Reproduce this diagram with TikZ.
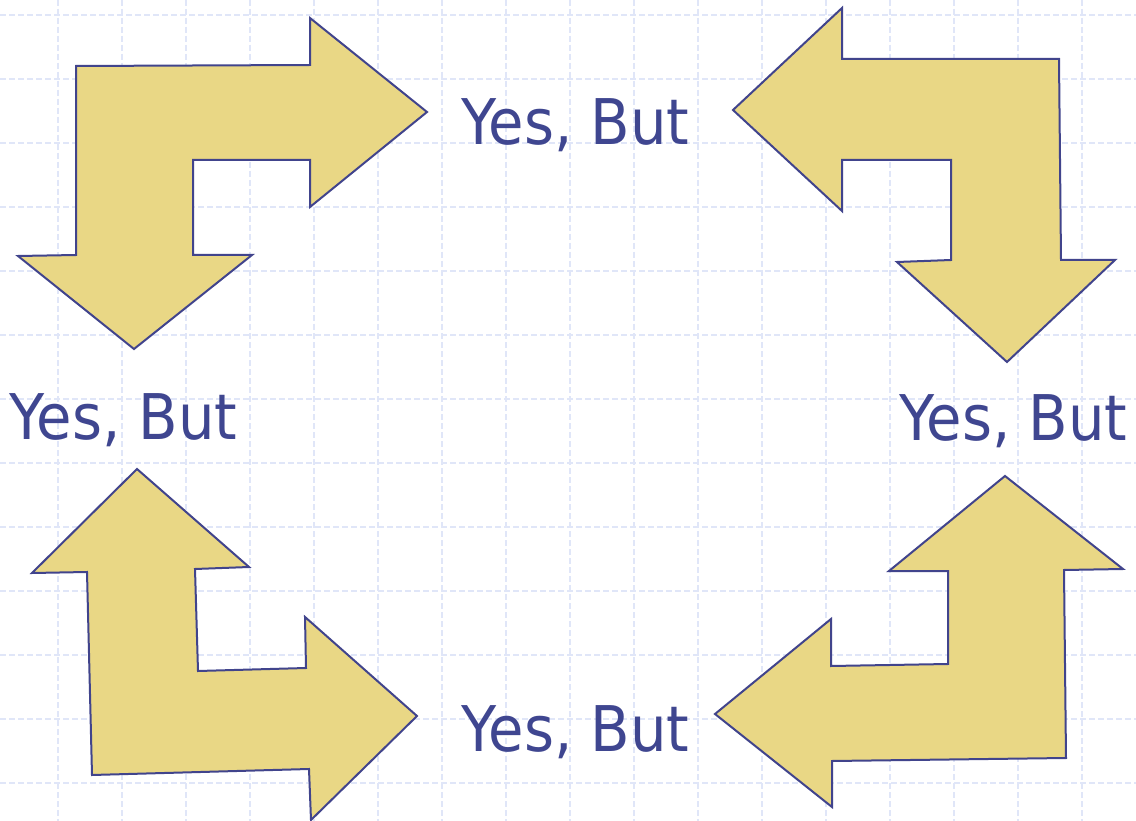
\documentclass[tikz,border=0pt]{standalone}
\usepackage{fontspec}
\newfontfamily\ybfont[FakeStretch=0.915]{DejaVu Sans}
\definecolor{arrowfill}{HTML}{E9D785}
\definecolor{arrowline}{HTML}{41448C}
\definecolor{textblue}{HTML}{3F4690}
\definecolor{gridblue}{HTML}{E0E6F8}
\begin{document}
\begin{tikzpicture}[x=1pt,y=-1pt,
  arrowshape/.style={fill=arrowfill,draw=arrowline,line width=2pt,line join=miter},
  gridline/.style={draw=gridblue,line width=1.3pt,dash pattern=on 6pt off 3pt},
  label/.style={text=textblue,font=\ybfont\fontsize{63}{70}\selectfont,inner sep=0pt,anchor=base west}]
\fill[white] (0,0) rectangle (1136,821);
\useasboundingbox (0,0) rectangle (1136,821);
% grid
\foreach \i in {0,...,16} {\draw[gridline] ({58+64*\i},0) -- ({58+64*\i},821);}
\foreach \j in {0,...,12} {\draw[gridline] (0,{15+64*\j}) -- (1136,{15+64*\j});}
% top-left arrow
\draw[arrowshape] (76,66) -- (310,65) -- (310,18) -- (427,112) -- (310,207) -- (310,160)
  -- (193,160) -- (193,255) -- (252,255) -- (134,349) -- (18,256) -- (76,255) -- cycle;
% top-right arrow
\draw[arrowshape] (733,110) -- (842,8) -- (842,59) -- (1059,59) -- (1061,260) -- (1115,260)
  -- (1007,362) -- (897,262) -- (951,260) -- (951,160) -- (842,160) -- (842,211) -- cycle;
% bottom-left arrow
\draw[arrowshape] (137,469) -- (249,567) -- (195,569) -- (198,671) -- (306,668) -- (305,617)
  -- (417,716) -- (311,820) -- (309,769) -- (92,775) -- (87,572) -- (32,573) -- cycle;
% bottom-right arrow
\draw[arrowshape] (1005,476) -- (1123,569) -- (1064,570) -- (1066,758) -- (832,761) -- (832,807)
  -- (715,714) -- (831,619) -- (831,666) -- (948,664) -- (948,571) -- (889,571) -- cycle;
% labels
\node[label] (ltop) at (461,145) {Yes, But};
\node[label] (lleft) at (9,439) {Yes, But};
\node[label] (lright) at (899,440) {Yes, But};
\node[label] (lbottom) at (461,751) {Yes, But};
\end{tikzpicture}
\end{document}
